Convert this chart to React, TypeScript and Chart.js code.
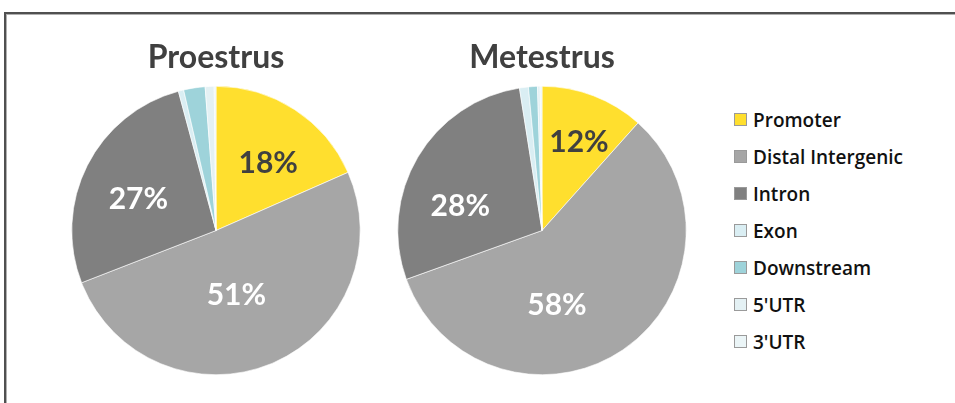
import { useEffect, useRef } from "react";
import { Chart, registerables } from "chart.js";

Chart.register(...registerables);

// Genomic feature distribution of peaks, in percent
const categories = ["Promoter", "Distal Intergenic", "Intron", "Exon", "Downstream", "5'UTR", "3'UTR"];
const proestrusValues = [18.4, 50.7, 26.7, 0.6, 2.4, 1.0, 0.2];
const metestrusValues = [11.6, 57.9, 28.0, 1.0, 1.0, 0.3, 0.2];
const sliceColors = ["#FFDF2E", "#A6A6A6", "#808080", "#DAEEF3", "#9ED3DA", "#E4F1F4", "#EBF5F7"];

const FONT = "Lato, 'Open Sans', sans-serif";

type LabelItem = { index: number; turn: number; frac: number; color: string };

// Draws "NN%" inside the large slices; turn (degrees) and frac (of radius) place the text
const sliceLabels = {
  id: "sliceLabels",
  afterDatasetsDraw(chart: any, _args: any, opts: any) {
    const meta = chart.getDatasetMeta(0);
    const values = chart.data.datasets[0].data as number[];
    const ctx = chart.ctx as CanvasRenderingContext2D;
    ctx.save();
    ctx.font = `bold 30px ${FONT}`;
    ctx.textAlign = "center";
    ctx.textBaseline = "middle";
    (opts.items || []).forEach((item: LabelItem) => {
      const arc = meta.data[item.index];
      const { x, y, startAngle, endAngle, outerRadius } = arc.getProps(
        ["x", "y", "startAngle", "endAngle", "outerRadius"],
        true
      );
      const a = (startAngle + endAngle) / 2 + (item.turn * Math.PI) / 180;
      const r = outerRadius * item.frac;
      ctx.fillStyle = item.color;
      ctx.fillText(Math.round(values[item.index]) + "%", x + r * Math.cos(a), y + r * Math.sin(a));
    });
    ctx.restore();
  },
};

function PieChart(props: { title: string; values: number[]; items: LabelItem[]; left: number; top: number }) {
  const ref = useRef<HTMLCanvasElement | null>(null);
  useEffect(() => {
    if (!ref.current) return;
    const chart = new Chart(ref.current, {
      type: "pie",
      data: {
        labels: categories,
        datasets: [
          {
            data: props.values,
            backgroundColor: sliceColors,
            borderColor: "#ffffff",
            borderWidth: 0.6,
          },
        ],
      },
      options: {
        responsive: false,
        animation: false,
        layout: { padding: 0 },
        plugins: {
          legend: { display: false },
          tooltip: { enabled: false },
          title: {
            display: true,
            text: props.title,
            color: "#404040",
            font: { family: FONT, size: 32, weight: "bold", lineHeight: 1.2 },
            padding: { top: 18, bottom: 9.6 },
          },
          sliceLabels: { items: props.items },
        } as any,
      },
      plugins: [sliceLabels],
    });
    return () => chart.destroy();
  }, []);
  return (
    <canvas
      ref={ref}
      width={300}
      height={355}
      style={{ position: "absolute", left: props.left, top: props.top, width: 300, height: 355 }}
    />
  );
}

export default function App() {
  return (
    <div
      style={{
        position: "absolute",
        left: 0,
        top: 0,
        width: 955,
        height: 403,
        background: "#ffffff",
        overflow: "hidden",
        fontFamily: FONT,
      }}
    >
      <div
        style={{
          position: "absolute",
          left: 4,
          top: 12,
          width: 960,
          height: 400,
          borderTop: "2px solid #505050",
          borderLeft: "2px solid #505050",
          boxShadow: "inset 1px 1px 0 #b0b0b0",
        }}
      />
      <PieChart
        title="Proestrus"
        values={proestrusValues}
        left={66}
        top={20}
        items={[
          { index: 0, turn: 4.7, frac: 0.59, color: "#404040" },
          { index: 1, turn: 5, frac: 0.47, color: "#ffffff" },
          { index: 2, turn: -5, frac: 0.58, color: "#ffffff" },
        ]}
      />
      <PieChart
        title="Metestrus"
        values={metestrusValues}
        left={392}
        top={20}
        items={[
          { index: 0, turn: 2, frac: 0.66, color: "#404040" },
          { index: 1, turn: 22.7, frac: 0.53, color: "#ffffff" },
          { index: 2, turn: -14.4, frac: 0.59, color: "#ffffff" },
        ]}
      />
      <div style={{ position: "absolute", left: 734, top: 101 }}>
        {categories.map((c, i) => (
          <div key={c} style={{ display: "flex", alignItems: "center", height: 37 }}>
            <div
              style={{
                width: 13,
                height: 13,
                boxSizing: "border-box",
                background: sliceColors[i],
                border: "1px solid #9a9a9a",
              }}
            />
            <span
              style={{
                marginLeft: 6,
                fontSize: 19,
                fontWeight: 600,
                fontFamily: "'Open Sans', sans-serif",
                color: "#111111",
                whiteSpace: "nowrap",
              }}
            >
              {c}
            </span>
          </div>
        ))}
      </div>
    </div>
  );
}
